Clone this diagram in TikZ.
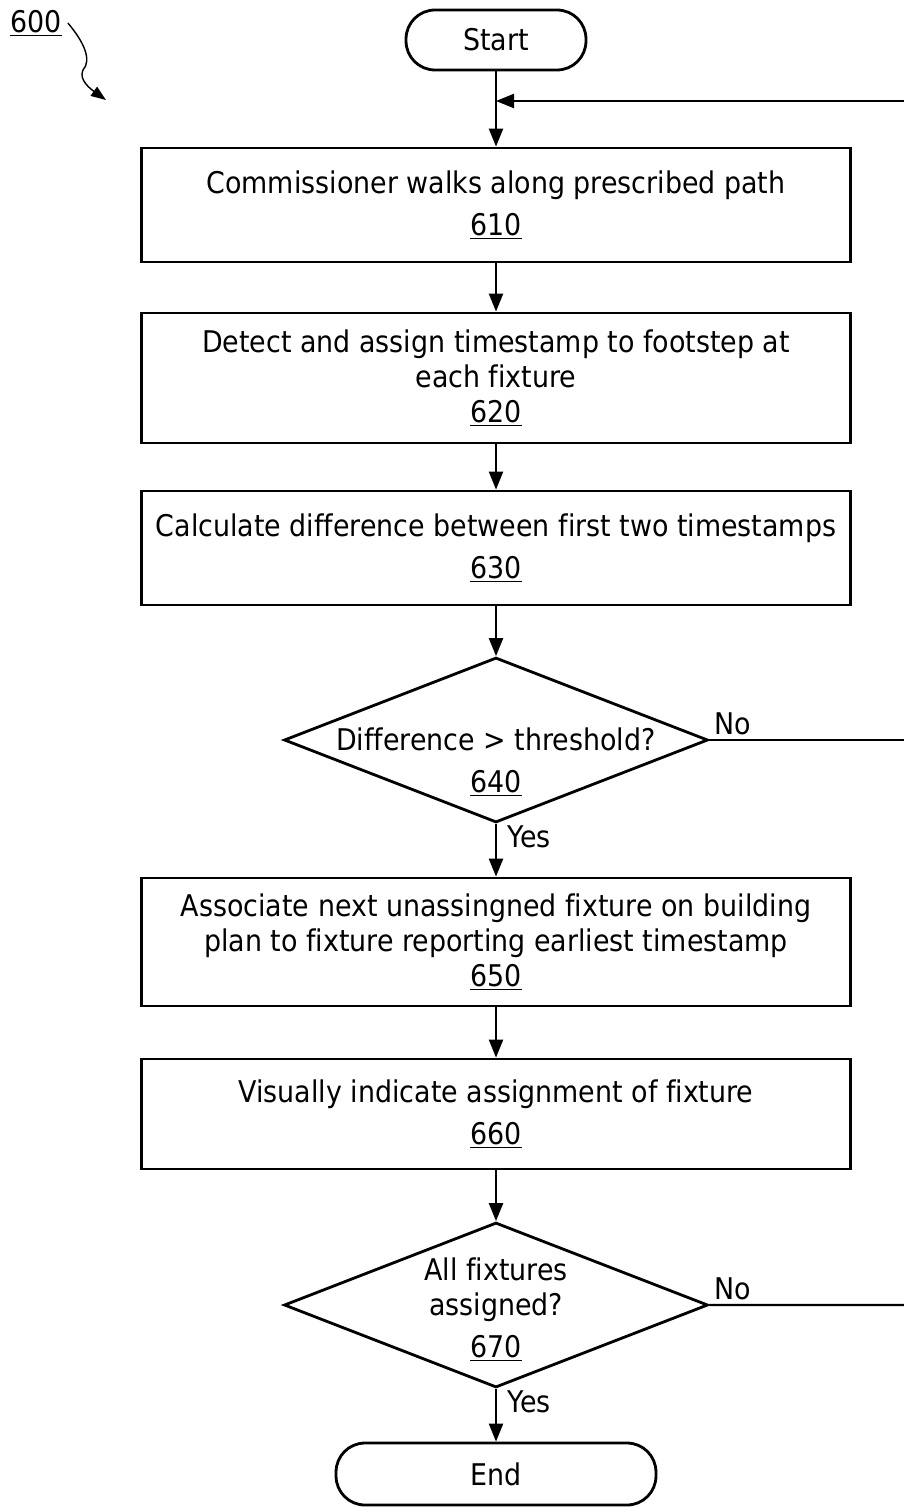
\documentclass[tikz,border=0pt]{standalone}
\usepackage{fontspec}
\setmainfont{DejaVu Sans}[FakeStretch=0.9, Ligatures=NoCommon]
\usetikzlibrary{arrows.meta,shapes.geometric}

\begin{document}
\begin{tikzpicture}[x=0.02cm, y=-0.02cm,
    every node/.style={font=\fontsize{17}{19.9}\selectfont},
    stepbox/.style={draw, line width=1.6pt, minimum width=14.18cm, align=center, inner sep=0pt},
    decision/.style={draw, diamond, line width=1.6pt, minimum width=8.48cm, minimum height=3.3cm, aspect=2.57, inner sep=0pt},
    terminal/.style={draw, line width=1.6pt, rounded corners=0.58cm, minimum height=1.2cm, inner sep=0pt},
    arr/.style={line width=1.3pt, -{Triangle[length=0.36cm,width=0.28cm]}},
    plain/.style={line width=1.3pt}]
    \useasboundingbox (0,0) rectangle (903,1507);

    \node[terminal, minimum width=3.6cm] (start) at (496,40) {Start};
    \node[stepbox, minimum height=2.28cm] (b610) at (496,205) {Commissioner walks along prescribed path\\[0.14cm] \underline{610}};
    \node[stepbox, minimum height=2.6cm] (b620) at (496,378) {Detect and assign timestamp to footstep at\\ each fixture\\ \underline{620}};
    \node[stepbox, minimum height=2.28cm] (b630) at (496,548) {Calculate difference between first two timestamps\\[0.14cm] \underline{630}};
    \node[decision] (d640) at (496,740) {};
    \node[align=center] (t640) at (496,762) {Difference > threshold?\\[0.14cm] \underline{640}};
    \node[stepbox, minimum height=2.56cm] (b650) at (496,942) {Associate next unassingned fixture on building\\ plan to fixture reporting earliest timestamp\\ \underline{650}};
    \node[stepbox, minimum height=2.2cm] (b660) at (496,1114) {Visually indicate assignment of fixture\\[0.14cm] \underline{660}};
    \node[decision] (d670) at (496,1305) {};
    \node[align=center] (t670) at (496,1310) {All fixtures\\ assigned?\\[0.14cm] \underline{670}};
    \node[terminal, minimum width=6.4cm, minimum height=1.24cm] (end) at (496,1474) {End};

    \node (n600) at (36,23) {\underline{600}};
    \coordinate (loop) at (496,101);

    \draw[arr] (start) -- (b610);
    \draw[arr] (b610) -- (b620);
    \draw[arr] (b620) -- (b630);
    \draw[arr] (b630) -- (d640);
    \draw[arr] (d640) -- node[near start, anchor=west, inner sep=0.2cm] (yes640) {Yes} (b650);
    \draw[arr] (b650) -- (b660);
    \draw[arr] (b660) -- (d670);
    \draw[arr] (d670) -- node[near start, anchor=west, inner sep=0.2cm] (yes670) {Yes} (end);
    \draw[arr] (d640.east) -- node[pos=0, anchor=south west, inner sep=0.08cm] (no640) {No} ++(240,0) |- (loop);
    \draw[plain] (d670.east) -- node[pos=0, anchor=south west, inner sep=0.08cm] (no670) {No} ++(240,0) -- ([xshift=4.8cm]d640.east);

    \draw[line width=0.8pt, -{Triangle[length=0.3cm,width=0.22cm]}] (n600.east) .. controls (84,42) and (92,60) .. (83,70)
        .. controls (78,80) and (92,90) .. (106,100);
\end{tikzpicture}
\end{document}
